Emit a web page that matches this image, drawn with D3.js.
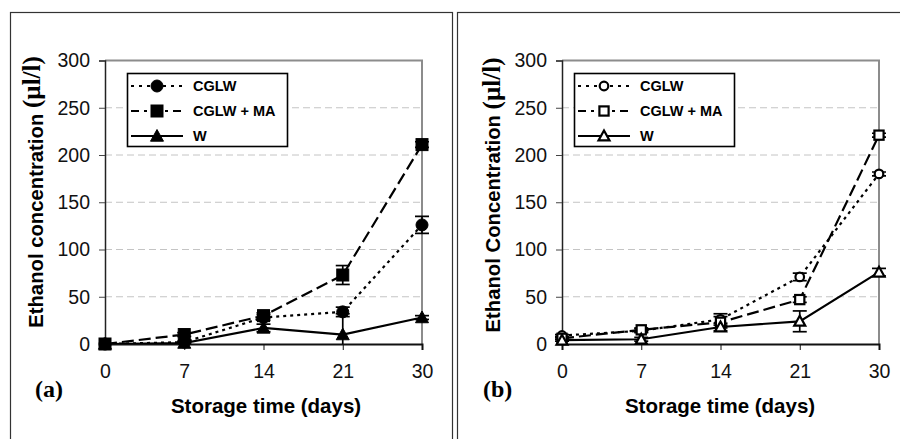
<!DOCTYPE html>
<html>
<head>
<meta charset="utf-8">
<script src="https://cdn.jsdelivr.net/npm/d3@7"></script>
<style>
  body { margin: 0; background: #fff; }
  svg { display: block; }
</style>
</head>
<body>
<svg id="chart" width="900" height="439"></svg>
<script>
//DATA ---------------------------------------------------------------------------------
const days = ["0", "7", "14", "21", "30"];
const yTicks = [0, 50, 100, 150, 200, 250, 300];
const seriesNames = ["CGLW", "CGLW + MA", "W"];

// panel (a)
const aCglw = [0, 2, 28, 34, 126];
const aCglwErr = [0, 1, 3, 5, 9];
const aCglwMa = [0, 10, 30, 73, 211];
const aCglwMaErr = [0, 2, 3, 10, 3];
const aW = [0, 1, 17, 10, 28];
const aWErr = [0, 1, 4, 22, 2];

// panel (b)
const bCglw = [9, 14, 26, 71, 180];
const bCglwErr = [1, 2, 6, 4, 2];
const bCglwMa = [6, 15, 23, 47, 221];
const bCglwMaErr = [1, 2, 6, 3, 2];
const bW = [4, 5, 18, 24, 76];
const bWErr = [1, 2, 4, 11, 4];

//SET UP -------------------------------------------------------------------------------
const svg = d3.select("#chart");
const SANS = "'Liberation Sans', Arial, sans-serif";
const SERIF = "'Liberation Serif', 'Times New Roman', serif";

// outer frames of the two figures
svg.append("rect").attr("x", 10.5).attr("y", 12.5).attr("width", 442).attr("height", 440)
    .attr("fill", "none").attr("stroke", "#333").attr("stroke-width", 1.2);
svg.append("rect").attr("x", 457.5).attr("y", 12.5).attr("width", 450).attr("height", 440)
    .attr("fill", "none").attr("stroke", "#333").attr("stroke-width", 1.2);

let clipId = 0;

//MARKERS ------------------------------------------------------------------------------
const drawMarker = (g, type, filled, x, y) => {
    const fill = filled ? "#000" : "#fff";
    const sw = filled ? 1 : 2.2;
    if (type === "circle") {
        g.append("circle").attr("cx", x).attr("cy", y).attr("r", filled ? 6 : 4.3)
            .attr("fill", fill).attr("stroke", "#000").attr("stroke-width", sw);
    } else if (type === "square") {
        const h = filled ? 6 : 4.6;
        g.append("rect").attr("x", x - h).attr("y", y - h).attr("width", 2 * h).attr("height", 2 * h)
            .attr("fill", fill).attr("stroke", "#000").attr("stroke-width", sw);
    } else {
        const h = filled ? 6.5 : 5.5;
        g.append("path")
            .attr("d", `M${x},${y - h}L${x + h},${y + h * 0.8}L${x - h},${y + h * 0.8}Z`)
            .attr("fill", fill).attr("stroke", "#000").attr("stroke-width", sw);
    }
};

//PANEL ---------------------------------------------------------------------------------
const drawPanel = (p) => {
    const left = p.left, right = p.right, top = 60.5, bottom = 344;
    const g = svg.append("g");

    const xScale = d3.scalePoint().domain(days).range([left, right]).padding(0);
    const yScale = d3.scaleLinear().domain([0, 300]).range([bottom, top]);

    // gridlines
    g.selectAll(".grid")
        .data(yTicks.filter(t => t > 0 && t < 300))
        .enter().append("line")
        .attr("x1", left).attr("x2", right)
        .attr("y1", d => yScale(d)).attr("y2", d => yScale(d))
        .attr("stroke", "#c4c4c4").attr("stroke-width", 1)
        .attr("stroke-dasharray", "7,4");

    // plot area frame (top and right grey)
    g.append("path")
        .attr("d", `M${left},${top}H${right}V${bottom}`)
        .attr("fill", "none").attr("stroke", "#8c8c8c").attr("stroke-width", 2);

    // axes
    const yAxis = d3.axisLeft(yScale).tickValues(yTicks).tickSize(6).tickPadding(9);
    const yG = g.append("g").attr("transform", `translate(${left},0)`).call(yAxis);
    yG.select(".domain").attr("stroke", "#222").attr("stroke-width", 1.5);
    yG.selectAll(".tick line").attr("stroke", "#444");
    yG.selectAll("text").attr("font-family", SANS).attr("font-size", 19.5).attr("fill", "#111");

    const xAxis = d3.axisBottom(xScale).tickSize(6).tickPadding(14);
    const xG = g.append("g").attr("transform", `translate(0,${bottom})`).call(xAxis);
    xG.select(".domain").attr("stroke", "#111").attr("stroke-width", 2);
    xG.selectAll(".tick line").attr("stroke", "#111");
    xG.selectAll("text").attr("font-family", SANS).attr("font-size", 19.5).attr("fill", "#111");

    // axis titles
    g.append("text")
        .attr("x", p.xTitleX).attr("y", 413)
        .attr("text-anchor", "middle")
        .attr("font-family", SANS).attr("font-weight", "bold").attr("font-size", 20.5)
        .text("Storage time (days)");

    const yt = g.append("text")
        .attr("transform", `translate(${p.yTitleX},${p.yTitleY}) rotate(-90)`)
        .attr("text-anchor", "middle")
        .attr("font-family", SANS).attr("font-weight", "bold").attr("font-size", 20.3);
    yt.append("tspan").text(p.yTitle + " ");
    yt.append("tspan").attr("font-family", SERIF).attr("font-size", 25)
        .attr("dy", p.unitDy).text("(\u00b5l/l)");

    g.append("text")
        .attr("x", p.tagX).attr("y", 397)
        .attr("font-family", SERIF).attr("font-weight", "bold").attr("font-size", 24)
        .text(p.tag);

    // clip for lines and error bars
    clipId += 1;
    const cid = "clip" + clipId;
    g.append("clipPath").attr("id", cid)
        .append("rect").attr("x", left - 15).attr("y", top - 10)
        .attr("width", right - left + 30).attr("height", bottom - top + 10);

    const plot = g.append("g").attr("clip-path", `url(#${cid})`);

    p.series.forEach(s => {
        const pts = s.values.map((v, i) => ({ day: days[i], v: v, e: s.errs[i] }));

        // error bars
        const eb = plot.append("g").attr("stroke", "#000").attr("stroke-width", 1.7);
        pts.filter(d => d.e > 0).forEach(d => {
            const x = xScale(d.day);
            const y1 = yScale(d.v - d.e), y2 = yScale(d.v + d.e);
            eb.append("line").attr("x1", x).attr("x2", x).attr("y1", y1).attr("y2", y2);
            eb.append("line").attr("x1", x - 7).attr("x2", x + 7).attr("y1", y1).attr("y2", y1);
            eb.append("line").attr("x1", x - 7).attr("x2", x + 7).attr("y1", y2).attr("y2", y2);
        });

        const line = d3.line().x(d => xScale(d.day)).y(d => yScale(d.v));
        plot.append("path")
            .datum(pts)
            .attr("fill", "none")
            .attr("stroke", "#000")
            .attr("stroke-width", 2.2)
            .attr("stroke-dasharray", s.dash)
            .attr("d", line);
    });

    // markers on top
    p.series.forEach(s => {
        s.values.forEach((v, i) => {
            drawMarker(g, s.marker, p.filled, xScale(days[i]), yScale(v));
        });
    });

    // legend
    const lg = g.append("g").attr("transform", `translate(${p.legendX},73)`);
    lg.append("rect").attr("x", 0.5).attr("y", 0.5).attr("width", 160).attr("height", 73)
        .attr("fill", "#fff").attr("stroke", "#000").attr("stroke-width", 1.6);
    p.series.forEach((s, i) => {
        const y = 13 + i * 25;
        lg.append("line").attr("x1", 4).attr("x2", 56).attr("y1", y).attr("y2", y)
            .attr("stroke", "#000").attr("stroke-width", 2)
            .attr("stroke-dasharray", s.legendDash);
        drawMarker(lg, s.marker, p.filled, 30, y);
        lg.append("text").attr("x", 66).attr("y", y + 5)
            .attr("font-family", SANS).attr("font-weight", "bold").attr("font-size", 14.5)
            .text(seriesNames[i]);
    });
};

//DRAW BOTH PANELS ---------------------------------------------------------------------
drawPanel({
    left: 105, right: 422, xTitleX: 266, yTitleX: 43, yTitleY: 192, unitDy: -3,
    tagX: 35, tag: "(a)", legendX: 127, filled: true,
    yTitle: "Ethanol concentration",
    series: [
        { values: aCglw, errs: aCglwErr, marker: "circle", dash: "3,4", legendDash: "3,5" },
        { values: aCglwMa, errs: aCglwMaErr, marker: "square", dash: "12,5", legendDash: "8,5,3,5" },
        { values: aW, errs: aWErr, marker: "triangle", dash: null, legendDash: null }
    ]
});

drawPanel({
    left: 562, right: 879, xTitleX: 720, yTitleX: 500, yTitleY: 195, unitDy: 0,
    tagX: 483, tag: "(b)", legendX: 574, filled: false,
    yTitle: "Ethanol Concentration",
    series: [
        { values: bCglw, errs: bCglwErr, marker: "circle", dash: "3,4", legendDash: "3,5" },
        { values: bCglwMa, errs: bCglwMaErr, marker: "square", dash: "12,5", legendDash: "8,5,3,5" },
        { values: bW, errs: bWErr, marker: "triangle", dash: null, legendDash: null }
    ]
});
</script>
</body>
</html>
